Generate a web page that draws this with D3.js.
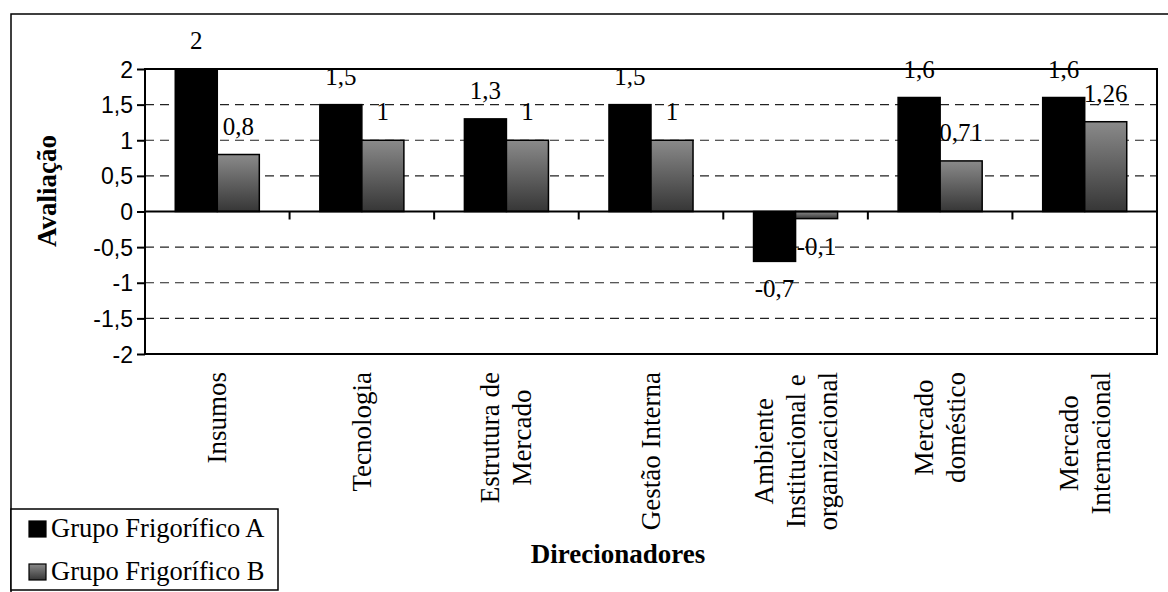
<!DOCTYPE html>
<html>
<head>
<meta charset="utf-8">
<script src="https://cdn.jsdelivr.net/npm/d3@7"></script>
<style>
  html, body { margin: 0; padding: 0; background: #fff; }
  svg { display: block; }
</style>
</head>
<body>
<svg id="chart" width="1168" height="592"></svg>
<script>
// ---- data ----
const categories = [
  ["Insumos"],
  ["Tecnologia"],
  ["Estrutura de", "Mercado"],
  ["Gestão Interna"],
  ["Ambiente", "Institucional e", "organizacional"],
  ["Mercado", "doméstico"],
  ["Mercado", "Internacional"]
];
const seriesNames = ["Grupo Frigorífico A", "Grupo Frigorífico B"];
const valuesA = [2, 1.5, 1.3, 1.5, -0.7, 1.6, 1.6];
const valuesB = [0.8, 1, 1, 1, -0.1, 0.71, 1.26];
const yTicks = [2, 1.5, 1, 0.5, 0, -0.5, -1, -1.5, -2];
const yTitle = "Avaliação";
const xTitle = "Direcionadores";

// ---- layout ----
const plot = { left: 145, right: 1157, top: 69, bottom: 354 };
const svg = d3.select("#chart");
const serif = "'Liberation Serif', 'Times New Roman', serif";
const sans = "'Liberation Sans', Arial, sans-serif";
const fmt = v => String(v).replace(".", ",");

const defs = svg.append("defs");
const grad = defs.append("linearGradient").attr("id", "gradB")
  .attr("x1", 0).attr("y1", 0).attr("x2", 0).attr("y2", 1);
grad.append("stop").attr("offset", "0%").attr("stop-color", "#8a8a8a");
grad.append("stop").attr("offset", "100%").attr("stop-color", "#363636");

// outer frame
svg.append("rect").attr("x", 11).attr("y", 14).attr("width", 1200).attr("height", 700)
  .attr("fill", "none").attr("stroke", "#000").attr("stroke-width", 1.5);

const catIdx = categories.map((d, i) => i);
const x0 = d3.scaleBand().domain(catIdx).range([plot.left, plot.right]).padding(0);
const x1 = d3.scaleBand().domain(seriesNames).range([0, x0.bandwidth()])
  .paddingInner(0).paddingOuter(0.72);
const y = d3.scaleLinear().domain([-2, 2]).range([plot.bottom, plot.top]);

// gridlines
svg.append("g").selectAll("line")
  .data(yTicks.filter(t => t !== 0 && Math.abs(t) !== 2))
  .join("line")
  .attr("x1", plot.left).attr("x2", plot.right)
  .attr("y1", d => y(d)).attr("y2", d => y(d))
  .attr("stroke", "#222").attr("stroke-width", 1.2)
  .attr("stroke-dasharray", "9,6");

// y axis
const yAxis = d3.axisLeft(y).tickValues(yTicks).tickSize(8).tickPadding(4)
  .tickFormat(d => fmt(d));
const gy = svg.append("g").attr("transform", `translate(${plot.left},0)`).call(yAxis);
gy.select(".domain").remove();
gy.selectAll(".tick line").attr("stroke", "#000").attr("stroke-width", 2);
gy.selectAll(".tick text").attr("font-family", sans).attr("font-size", 23)
  .attr("fill", "#000").attr("dy", "0.35em");

// bars
const data = [];
catIdx.forEach(i => {
  data.push({ i, s: seriesNames[0], v: valuesA[i] });
  data.push({ i, s: seriesNames[1], v: valuesB[i] });
});
const barsG = svg.append("g");
barsG.selectAll("rect").data(data).join("rect")
  .attr("x", d => x0(d.i) + x1(d.s))
  .attr("width", x1.bandwidth())
  .attr("y", d => y(Math.max(0, d.v)))
  .attr("height", d => Math.abs(y(d.v) - y(0)))
  .attr("fill", d => d.s === seriesNames[0] ? "#000" : "url(#gradB)")
  .attr("stroke", "#000").attr("stroke-width", 1.5);

// zero line and category ticks
svg.append("line").attr("x1", plot.left).attr("x2", plot.right)
  .attr("y1", y(0)).attr("y2", y(0)).attr("stroke", "#000").attr("stroke-width", 2);
svg.append("g").selectAll("line").data(catIdx.slice(1)).join("line")
  .attr("x1", d => x0(d)).attr("x2", d => x0(d))
  .attr("y1", y(0)).attr("y2", y(0) + 8)
  .attr("stroke", "#000").attr("stroke-width", 2);

// plot border
svg.append("rect").attr("x", plot.left).attr("y", plot.top)
  .attr("width", plot.right - plot.left).attr("height", plot.bottom - plot.top)
  .attr("fill", "none").attr("stroke", "#000").attr("stroke-width", 2);

// data labels
svg.append("g").selectAll("text").data(data).join("text")
  .attr("x", d => x0(d.i) + x1(d.s) + x1.bandwidth() / 2)
  .attr("y", d => d.v >= 0 ? y(d.v) - 20 : y(d.v) + 36)
  .attr("text-anchor", "middle")
  .attr("font-family", serif).attr("font-size", 25).attr("fill", "#000")
  .text(d => fmt(d.v));

// category labels
const lineGap = 32;
const catG = svg.append("g");
catIdx.forEach(i => {
  const lines = categories[i];
  const n = lines.length;
  const cx = x0(i) + x0.bandwidth() / 2;
  const texts = lines.map((t, k) => {
    const bx = cx + (k - (n - 1) / 2) * lineGap + 9;
    return catG.append("text")
      .attr("text-anchor", "middle")
      .attr("font-family", serif).attr("font-size", 27).attr("fill", "#000")
      .text(t)
      .datum(bx);
  });
  const maxLen = d3.max(texts, t => t.node().getComputedTextLength());
  const midY = 372 + maxLen / 2;
  texts.forEach(t => {
    const bx = t.datum();
    t.attr("transform", `translate(${bx},${midY}) rotate(-90)`);
  });
});

// axis titles
svg.append("text")
  .attr("transform", `translate(56,191) rotate(-90)`)
  .attr("text-anchor", "middle")
  .attr("font-family", serif).attr("font-weight", "bold").attr("font-size", 27)
  .text(yTitle);
svg.append("text")
  .attr("x", 618).attr("y", 563)
  .attr("text-anchor", "middle")
  .attr("font-family", serif).attr("font-weight", "bold").attr("font-size", 27)
  .text(xTitle);

// legend
const lg = svg.append("g");
lg.append("rect").attr("x", 11).attr("y", 509).attr("width", 267).attr("height", 81)
  .attr("fill", "#fff").attr("stroke", "#000").attr("stroke-width", 1.5);
seriesNames.forEach((s, k) => {
  const by = 537 + k * 43;
  lg.append("rect").attr("x", 29).attr("y", by - 16).attr("width", 17).attr("height", 16)
    .attr("fill", k === 0 ? "#000" : "url(#gradB)")
    .attr("stroke", "#000").attr("stroke-width", 1.2);
  lg.append("text").attr("x", 51).attr("y", by)
    .attr("font-family", serif).attr("font-size", 26.5).attr("fill", "#000")
    .text(s);
});
</script>
</body>
</html>
